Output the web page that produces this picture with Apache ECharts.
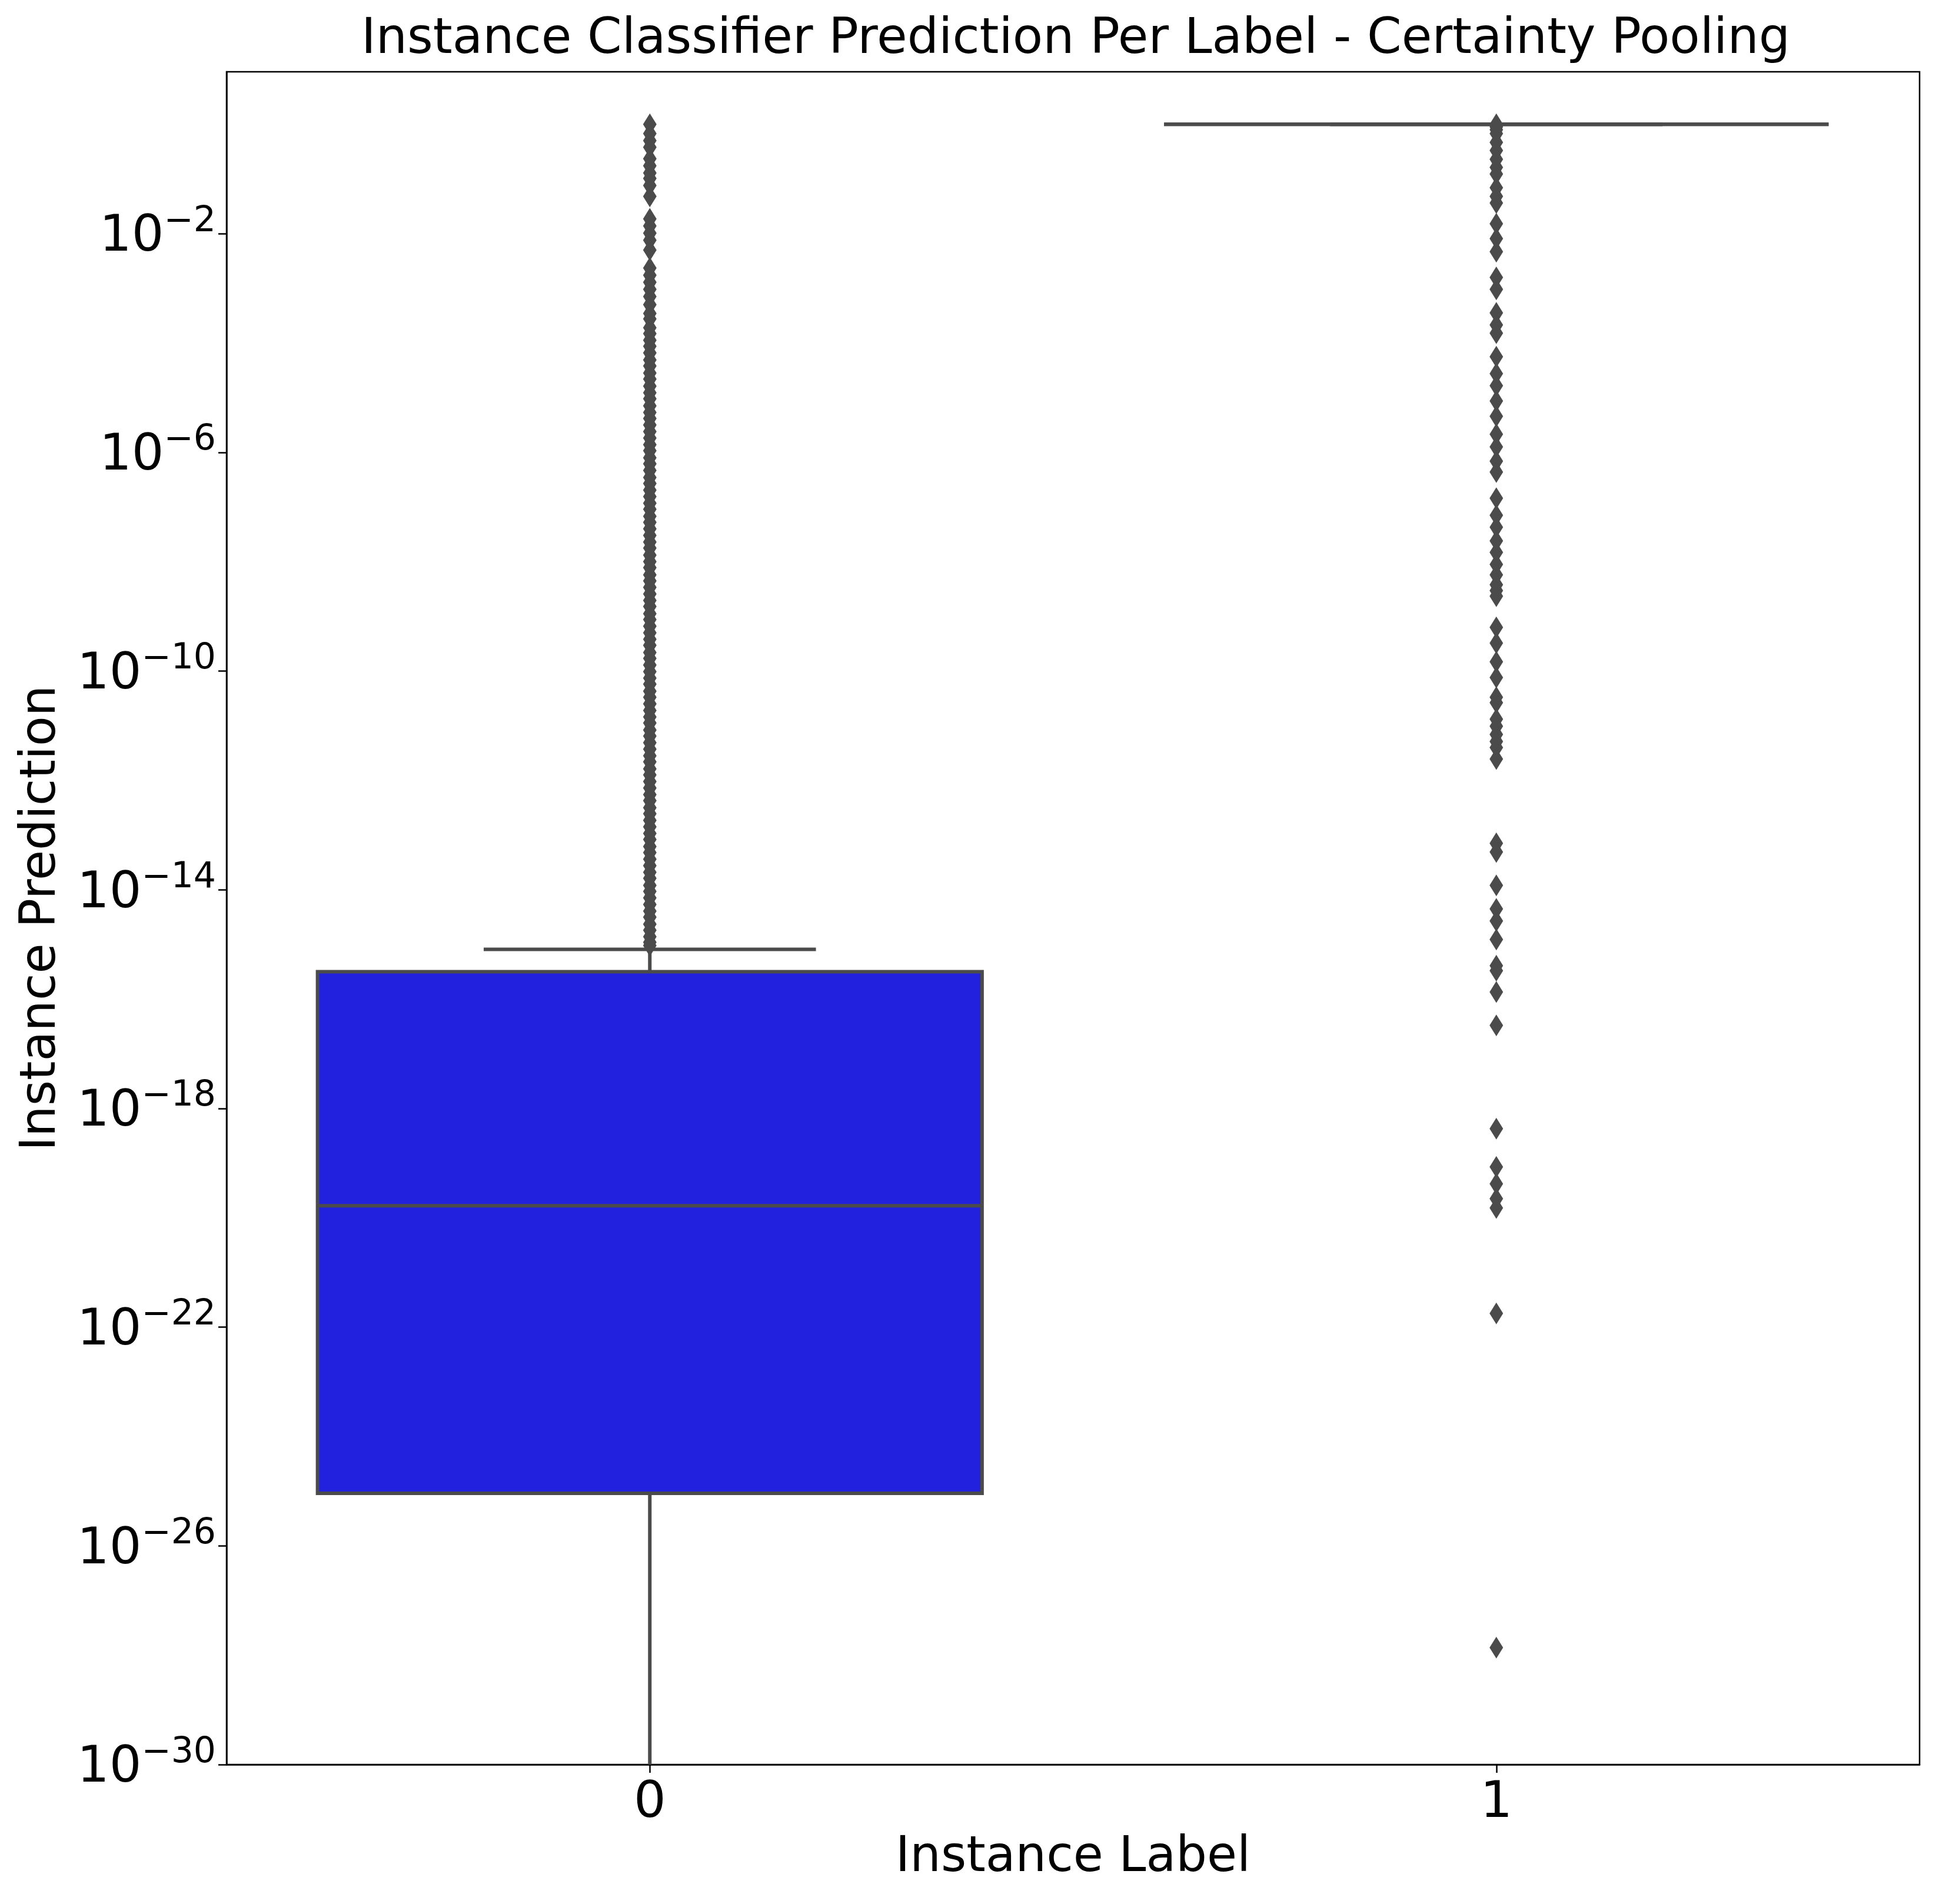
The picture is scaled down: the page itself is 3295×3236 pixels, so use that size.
<!DOCTYPE html>
<html>
<head>
<meta charset="utf-8">
<title>Instance Classifier Prediction Per Label - Certainty Pooling</title>
<script src="https://cdn.jsdelivr.net/npm/echarts@6/dist/echarts.min.js"></script>
<style>
  html, body { margin: 0; padding: 0; background: #ffffff; }
  #chart { width: 3295px; height: 3236px; }
</style>
</head>
<body>
<div id="chart"></div>
<script>
// all y values are log10 of the instance prediction
const categories = ['0', '1']
const whiskerLow = [-31, 0] // label 0 whisker runs past the bottom of the axis
const quartile1 = [-25.04, 0]
const medians = [-19.78, 0]
const quartile3 = [-15.5, 0]
const whiskerHigh = [-15.09, 0]

const outliersLabel0 = [
  0, -0.17, -0.3, -0.42, -0.63, -0.76, -0.89, -0.99, -1.12, -1.32, -1.73, -1.86,
  -1.99, -2.12, -2.3, -2.63, -2.76, -2.89, -3.02, -3.15, -3.3, -3.46, -3.56, -3.72,
  -3.83, -3.95, -4.06, -4.18, -4.31, -4.42, -4.55, -4.66, -4.79, -4.91, -5.02, -5.15,
  -5.27, -5.38, -5.5, -5.62, -5.74, -5.86, -5.97, -6.1, -6.21, -6.33, -6.46, -6.57,
  -6.69, -6.81, -6.93, -7.04, -7.17, -7.28, -7.4, -7.52, -7.64, -7.75, -7.88, -8.0,
  -8.11, -8.24, -8.35, -8.47, -8.59, -8.71, -8.82, -8.95, -9.06, -9.18, -9.3, -9.42,
  -9.53, -9.66, -9.77, -9.89, -10.01, -10.13, -10.24, -10.37, -10.48, -10.6, -10.72,
  -10.84, -10.95, -11.08, -11.19, -11.31, -11.43, -11.55, -11.66, -11.79, -11.9,
  -12.02, -12.14, -12.26, -12.37, -12.5, -12.61, -12.73, -12.85, -12.97, -13.08,
  -13.21, -13.32, -13.44, -13.56, -13.68, -13.79, -13.92, -14.03, -14.15, -14.27,
  -14.39, -14.5, -14.63, -14.74, -14.86, -14.96, -15.02
]
const outliersLabel1 = [
  0, -0.05, -0.1, -0.17, -0.33, -0.48, -0.64, -0.79, -0.91, -1.16, -1.32, -1.44,
  -1.82, -2.09, -2.33, -2.8, -3.02, -3.45, -3.67, -3.82, -4.25, -4.56, -4.78, -5.06,
  -5.34, -5.67, -5.9, -6.16, -6.36, -6.84, -7.15, -7.37, -7.62, -7.83, -8.05, -8.24,
  -8.42, -8.53, -8.63, -9.2, -9.49, -9.83, -10.12, -10.48, -10.58, -10.88, -11.01,
  -11.16, -11.29, -11.4, -11.61, -13.15, -13.31, -13.92, -14.35, -14.57, -14.91,
  -15.39, -15.48, -15.87, -16.48, -18.37, -19.07, -19.38, -19.65, -19.82, -21.75, -27.86
]
const yTicks = [-30, -26, -22, -18, -14, -10, -6, -2]

const FONT = 'DejaVu Sans'
const LINE = '#4b4b4b'
const BOX = '#2121de'

const boxData = categories.map((c, i) =>
  [i, whiskerLow[i], quartile1[i], medians[i], quartile3[i], whiskerHigh[i]])
const outlierData = []
outliersLabel0.forEach(v => outlierData.push([0, v]))
outliersLabel1.forEach(v => outlierData.push([1, v]))

function renderBox(params, api) {
  const x = api.value(0)
  const band = api.size([1, 0])[0]
  const boxW = band * 0.785
  const capW = boxW / 2
  const lo = api.coord([x, api.value(1)])
  const q1 = api.coord([x, api.value(2)])
  const med = api.coord([x, api.value(3)])
  const q3 = api.coord([x, api.value(4)])
  const hi = api.coord([x, api.value(5)])
  const cx = q1[0]
  const stroke = { stroke: LINE, lineWidth: 6 }
  const line = (x1, y1, x2, y2) => ({
    type: 'line', shape: { x1, y1, x2, y2 }, style: stroke
  })
  return {
    type: 'group',
    children: [
      line(cx, q1[1], cx, lo[1]),
      line(cx, q3[1], cx, hi[1]),
      line(cx - capW / 2, lo[1], cx + capW / 2, lo[1]),
      line(cx - capW / 2, hi[1], cx + capW / 2, hi[1]),
      {
        type: 'rect',
        shape: { x: cx - boxW / 2, y: q3[1], width: boxW, height: q1[1] - q3[1] },
        style: { fill: BOX, stroke: LINE, lineWidth: 6 }
      },
      line(cx - boxW / 2, med[1], cx + boxW / 2, med[1])
    ]
  }
}

const chart = echarts.init(document.getElementById('chart'), null, { renderer: 'canvas' })
chart.setOption({
  backgroundColor: '#ffffff',
  animation: false,
  textStyle: { fontFamily: FONT },
  title: {
    text: 'Instance Classifier Prediction Per Label - Certainty Pooling',
    left: 1823,
    textAlign: 'center',
    top: 21,
    textStyle: { fontFamily: FONT, fontSize: 84, fontWeight: 'normal', color: '#000' }
  },
  grid: {
    left: 385, right: 33, top: 122, bottom: 237,
    show: true, borderColor: '#000', borderWidth: 2.5, backgroundColor: 'transparent'
  },
  xAxis: {
    type: 'category',
    data: categories,
    boundaryGap: true,
    name: 'Instance Label',
    nameLocation: 'middle',
    nameGap: 118,
    nameTextStyle: { fontFamily: FONT, fontSize: 83, color: '#000' },
    axisLine: { show: true, onZero: false, lineStyle: { color: '#000', width: 2.5 } },
    axisTick: { show: true, alignWithLabel: true, length: 14, lineStyle: { color: '#000', width: 2.5 } },
    axisLabel: { fontFamily: FONT, fontSize: 86, color: '#000', margin: 24 },
    splitLine: { show: false }
  },
  yAxis: {
    type: 'value',
    min: -30,
    max: 0.96,
    name: 'Instance Prediction',
    nameLocation: 'middle',
    nameGap: 272,
    nameTextStyle: { fontFamily: FONT, fontSize: 83, color: '#000' },
    axisLine: { show: true, lineStyle: { color: '#000', width: 2.5 } },
    axisTick: { show: true, length: 14, customValues: yTicks, lineStyle: { color: '#000', width: 2.5 } },
    axisLabel: {
      customValues: yTicks,
      margin: 18,
      formatter: v => '{b|10}{s|\u2212' + Math.abs(v) + '}',
      rich: {
        b: { fontFamily: FONT, fontSize: 86, color: '#000', verticalAlign: 'bottom', lineHeight: 100 },
        s: { fontFamily: FONT, fontSize: 60, color: '#000', verticalAlign: 'top', lineHeight: 100 }
      }
    },
    splitLine: { show: false }
  },
  series: [
    {
      type: 'custom',
      name: 'box',
      clip: true,
      renderItem: renderBox,
      encode: { x: 0, y: [1, 2, 3, 4, 5] },
      data: boxData,
      z: 2
    },
    {
      type: 'scatter',
      name: 'outliers',
      symbol: 'diamond',
      symbolSize: [23, 37],
      itemStyle: { color: LINE, opacity: 1 },
      data: outlierData,
      z: 3
    }
  ]
})
</script>
</body>
</html>
